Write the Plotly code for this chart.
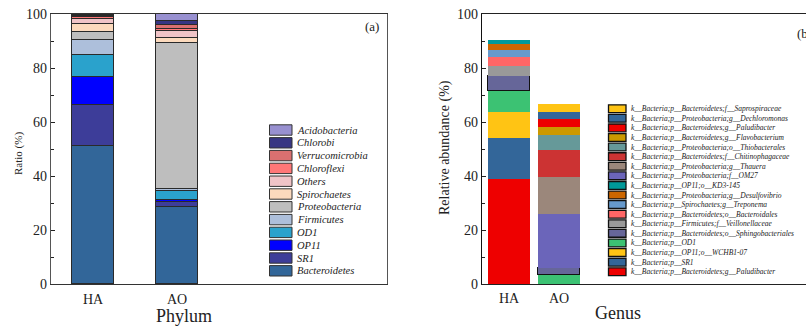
import plotly.graph_objects as go

W, H = 806, 327

# ---------------- data: left panel (Phylum) ----------------
samples = ["HA", "AO"]
phyla = ["Bacteroidetes", "SR1", "OP11", "OD1", "Firmicutes", "Proteobacteria",
         "Spirochaetes", "Others", "Chloroflexi", "Verrucomicrobia", "Chlorobi", "Acidobacteria"]
phylum_HA = [51.0, 15.2, 10.6, 7.9, 5.5, 3.3, 2.8, 2.0, 0.6, 0.4, 0.4, 0.3]
phylum_AO = [28.4, 1.9, 0.8, 3.5, 0.5, 54.2, 1.8, 2.5, 1.0, 1.2, 1.5, 2.7]
phylum_colors = ["#326699", "#3D3D99", "#0000FF", "#2AA2CC", "#ADBFDB", "#BEBEBE",
                 "#FCDABD", "#F0C4C7", "#FF7777", "#DA7070", "#373583", "#9890D0"]

# ---------------- data: right panel (Genus) ----------------
genera = [
    "k__Bacteria;p__Bacteroidetes;g__Paludibacter",
    "k__Bacteria;p__SR1",
    "k__Bacteria;p__OP11;o__WCHB1-07",
    "k__Bacteria;p__OD1",
    "k__Bacteria;p__Bacteroidetes;o__Sphingobacteriales",
    "k__Bacteria;p__Firmicutes;f__Veillonellaceae",
    "k__Bacteria;p__Bacteroidetes;o__Bacteroidales",
    "k__Bacteria;p__Spirochaetes;g__Treponema",
    "k__Bacteria;p__Proteobacteria;g__Desulfovibrio",
    "k__Bacteria;p__OP11;o__KD3-145",
    "k__Bacteria;p__Proteobacteria;f__OM27",
    "k__Bacteria;p__Proteobacteria;g__Thauera",
    "k__Bacteria;p__Bacteroidetes;f__Chitinophagaceae",
    "k__Bacteria;p__Proteobacteria;o__Thiobacterales",
    "k__Bacteria;p__Bacteroidetes;g__Flavobacterium",
    "k__Bacteria;p__Bacteroidetes;g__Paludibacter",
    "k__Bacteria;p__Proteobacteria;g__Dechloromonas",
    "k__Bacteria;p__Bacteroidetes;f__Saprospiraceae",
]
genus_HA = [39.0, 15.1, 9.6, 7.6, 5.8, 3.7, 3.3, 2.6, 2.3, 1.4,
            0, 0, 0, 0, 0, 0, 0, 0]
genus_AO = [0, 0, 0, 3.3, 2.7, 0, 0, 0, 0, 0,
            20.0, 13.7, 10.0, 5.5, 3.0, 3.0, 2.5, 3.0]
genus_colors = ["#EE0000", "#336699", "#FFC414", "#3CC273", "#666699", "#999999",
                "#FF6666", "#6699CC", "#CC6600", "#009999", "#6B65BA", "#9B877B",
                "#CC3333", "#669999", "#CC9900", "#EE0000", "#336699", "#FFC414"]
genus_outlined = [n.endswith("Sphingobacteriales") for n in genera]

FONT = "Liberation Serif, Times New Roman, serif"

def px(x):
    return x / W

def py(y):
    return 1 - y / H

fig = go.Figure()

for name, ha, ao, col in zip(phyla, phylum_HA, phylum_AO, phylum_colors):
    fig.add_trace(go.Bar(x=[0, 1], y=[ha, ao], name=name, marker_color=col,
                         marker_line=dict(color="#2a2a2a", width=1), width=0.5,
                         xaxis="x", yaxis="y", showlegend=False))

for name, ha, ao, col, outl in zip(genera, genus_HA, genus_AO, genus_colors, genus_outlined):
    fig.add_trace(go.Bar(x=[0, 1], y=[ha, ao], name=name, marker_color=col,
                         marker_line=dict(color="#111111", width=1.2 if outl else 0),
                         width=0.83, xaxis="x2", yaxis="y2", showlegend=False))

ydom = [py(284), py(14)]
common_y = dict(range=[0, 100], tickvals=[0, 20, 40, 60, 80, 100], ticks="inside", ticklen=4,
                tickwidth=1, tickcolor="#222", showgrid=False, zeroline=False,
                showline=True, linewidth=1.2, automargin=False,
                tickfont=dict(family=FONT, size=14, color="#222"),
                minor=dict(tickvals=[10, 30, 50, 70, 90], ticks="inside", ticklen=3,
                           tickcolor="#222", tickwidth=1))

fig.update_layout(
    width=W, height=H, margin=dict(l=0, r=0, t=0, b=0, autoexpand=False),
    paper_bgcolor="white", plot_bgcolor="white", barmode="stack", bargap=0,
    showlegend=False,
    xaxis=dict(domain=[px(51), px(387)], range=[-0.5, 3.5], tickvals=[0, 1], ticktext=samples,
               showline=True, linecolor="#333", linewidth=1.2, mirror=True, ticks="",
               showgrid=False, zeroline=False, ticklabelstandoff=2, automargin=False,
               tickfont=dict(family=FONT, size=14, color="#222")),
    yaxis=dict(domain=ydom, anchor="x", linecolor="#555", mirror=True, **common_y),
    xaxis2=dict(domain=[px(482), 1.0], range=[-0.54, 5.94], tickvals=[0, 1], ticktext=samples,
                showline=True, linecolor="#222", linewidth=1.2, mirror=True, ticks="",
                showgrid=False, zeroline=False, ticklabelstandoff=1, anchor="y2",
                automargin=False, tickfont=dict(family=FONT, size=14, color="#222")),
    yaxis2=dict(domain=ydom, anchor="x2", linecolor="#111", mirror=False, **common_y),
)

ann = []
shapes = []

def label(text, x, y, size, angle=0, xanchor="center"):
    ann.append(dict(text=text, x=px(x), y=py(y), xref="paper", yref="paper", textangle=angle,
                    xanchor=xanchor, yanchor="middle", showarrow=False,
                    font=dict(family=FONT, size=size, color="#222")))

# axis titles and panel labels
label("Ratio (%)", 18, 154, 11, -90)
label("Phylum", 184, 316, 18)
label("(a)", 372, 26, 13)
label("Relative abundance (%)", 445, 148, 14, -90)
label("Genus", 618, 313, 18)
label("(b)", 795, 33, 13, xanchor="left")

# left legend (top to bottom = reverse stack order)
top_c, step = 130.0, 12.8
for i, (name, col) in enumerate(zip(phyla[::-1], phylum_colors[::-1])):
    cy = top_c + i * step
    shapes.append(dict(type="rect", xref="paper", yref="paper",
                       x0=px(269.5), x1=px(292), y0=py(cy + 5.2), y1=py(cy - 5.2),
                       fillcolor=col, line=dict(color="#333", width=1)))
    label("<i>" + name + "</i>", 295, cy, 10.5, xanchor="left")

# right legend
top_c, step = 108.7, 9.59
for i, (name, col) in enumerate(zip(genera[::-1], genus_colors[::-1])):
    cy = top_c + i * step
    shapes.append(dict(type="rect", xref="paper", yref="paper",
                       x0=px(608.5), x1=px(626), y0=py(cy + 3.9), y1=py(cy - 3.9),
                       fillcolor=col, line=dict(color="#111", width=1.3)))
    label("<i>" + name + "</i>", 628.5, cy, 7.5, xanchor="left")

fig.update_layout(annotations=ann, shapes=shapes)
fig.write_html("out.html")
